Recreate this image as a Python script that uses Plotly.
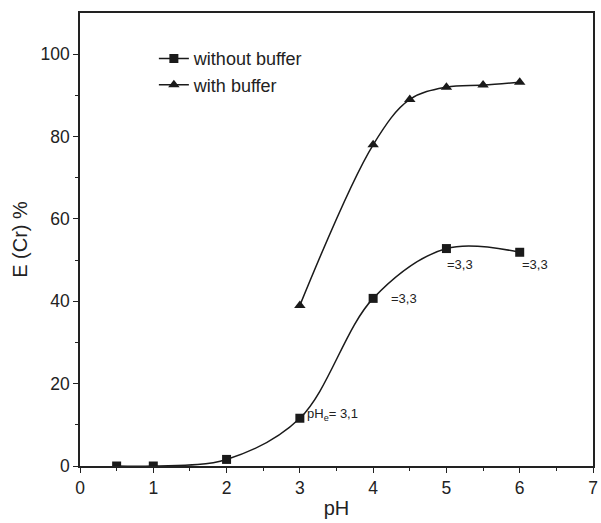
import plotly.graph_objects as go

ph_nobuf = [0.5, 1, 2, 3, 4, 5, 6]
e_nobuf = [0, 0, 1.6, 11.6, 40.7, 52.8, 51.9]
ph_buf = [3, 4, 4.5, 5, 5.5, 6]
e_buf = [39, 78, 89, 92, 92.5, 93.2]

ann_x = [3.07, 4.22, 4.98, 6.0]
ann_y = [12.5, 40.7, 49, 49]
ann_text = ["pH<sub>e</sub>= 3,1", "=3,3", "=3,3", "=3,3"]

FONT = "Liberation Sans, Arial, sans-serif"
fig = go.Figure()
fig.add_trace(go.Scatter(x=ph_nobuf, y=e_nobuf, mode="lines+markers", name="without buffer",
                         line=dict(color="#1a1a1a", width=1.5, shape="spline", smoothing=1.0),
                         marker=dict(symbol="square", size=9, color="#1a1a1a")))
fig.add_trace(go.Scatter(x=ph_buf, y=e_buf, mode="lines+markers", name="with buffer",
                         line=dict(color="#1a1a1a", width=1.5, shape="spline", smoothing=1.0),
                         marker=dict(symbol="triangle-up", size=10, color="#1a1a1a")))
for x, y, t in zip(ann_x, ann_y, ann_text):
    fig.add_annotation(x=x, y=y, text=t, showarrow=False, xanchor="left", yanchor="middle",
                       font=dict(size=13, color="#222", family=FONT))

fig.update_layout(
    width=601, height=523, margin=dict(l=80, r=3, t=13, b=57),
    paper_bgcolor="white", plot_bgcolor="white",
    font=dict(family=FONT, color="#222", size=17.5),
    showlegend=True,
    legend=dict(x=0.144, y=0.94, xanchor="left", yanchor="top", bgcolor="rgba(0,0,0,0)",
                font=dict(size=18, family=FONT), tracegroupgap=0, itemwidth=30),
)
fig.update_xaxes(range=[0, 7], dtick=1, showgrid=False, zeroline=False, showline=True,
                 linecolor="#222", linewidth=1.5, mirror=True, ticks="outside", ticklen=5,
                 tickcolor="#222", minor=dict(dtick=0.5, ticks="outside", ticklen=3, tickcolor="#222"),
                 title=dict(text="pH", font=dict(size=20), standoff=4))
fig.update_yaxes(range=[0, 110], tickvals=[0, 20, 40, 60, 80, 100], showgrid=False, zeroline=False,
                 showline=True, linecolor="#222", linewidth=1.5, mirror=True, ticks="outside",
                 ticklen=5, tickcolor="#222",
                 minor=dict(tickvals=[10, 30, 50, 70, 90], ticks="outside", ticklen=3, tickcolor="#222"),
                 title=dict(text="E (Cr) %", font=dict(size=20), standoff=8))
fig.write_html("out.html")
